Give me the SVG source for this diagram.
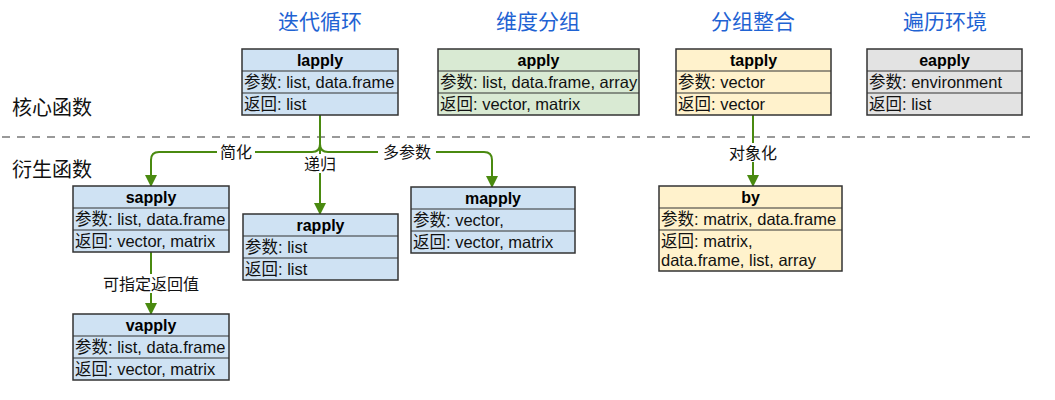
<svg xmlns="http://www.w3.org/2000/svg" width="1055" height="400" viewBox="0 0 1055 400">
<style>
.title{font-family:"Noto Sans CJK SC","Noto Sans",sans-serif;font-size:21px;fill:#1f63d3;text-anchor:middle;dominant-baseline:central}
.side{font-family:"Noto Sans CJK SC","Noto Sans",sans-serif;font-size:20px;fill:#111;dominant-baseline:central}
.hd{font-family:"Liberation Sans","Noto Sans CJK SC",sans-serif;font-size:16px;font-weight:bold;fill:#000;text-anchor:middle;dominant-baseline:central}
.row{font-family:"Liberation Sans","Noto Sans CJK SC",sans-serif;font-size:16.5px;fill:#111;dominant-baseline:central}
.lbl{font-family:"Noto Sans CJK SC","Liberation Sans",sans-serif;font-size:16px;fill:#111;text-anchor:middle;dominant-baseline:central}
.box{stroke:#333;stroke-width:1.5}
.blue{fill:#cfe2f3}.green{fill:#d9ead3}.yellow{fill:#fff2cc}.gray{fill:#e3e3e3}
.sep{stroke:#333;stroke-width:1.2}
.edge{fill:none;stroke:#4a8a10;stroke-width:2}
.bg{fill:#fff}
</style>
<defs>
<marker id="arr" viewBox="0 0 12 12" refX="11" refY="6" markerWidth="12" markerHeight="12" markerUnits="userSpaceOnUse" orient="auto">
<path d="M0,0 L12,6 L0,12 Z" fill="#4a8a10"/>
</marker>
</defs>

<text class="title" x="320" y="20">迭代循环</text>
<text class="title" x="538" y="20">维度分组</text>
<text class="title" x="753" y="20">分组整合</text>
<text class="title" x="945" y="20">遍历环境</text>
<text class="side" x="12" y="106">核心函数</text>
<text class="side" x="12" y="168">衍生函数</text>

<line x1="2" y1="137" x2="1035" y2="137" stroke="#999" stroke-width="2" stroke-dasharray="8,7"/>

<g id="connectors">
<path class="edge" d="M320,115 L320,144 Q320,152 312,152 L159,152 Q151,152 151,160 L151,186" marker-end="url(#arr)"/>
<path class="edge" d="M320,115 L320,144 Q320,152 328,152 L484,152 Q492,152 492,160 L492,187" marker-end="url(#arr)"/>
<path class="edge" d="M320,115 L320,214" marker-end="url(#arr)"/>
<path class="edge" d="M753,115 L753,186" marker-end="url(#arr)"/>
<path class="edge" d="M151,252 L151,314" marker-end="url(#arr)"/>
<rect class="bg" x="217" y="142" width="38" height="19"/>
<text class="lbl" x="236" y="151">简化</text>
<rect class="bg" x="302" y="154" width="36" height="19"/>
<text class="lbl" x="320" y="163">递归</text>
<rect class="bg" x="378" y="142" width="58" height="19"/>
<text class="lbl" x="407" y="151">多参数</text>
<rect class="bg" x="725" y="143" width="56" height="19"/>
<text class="lbl" x="753" y="152">对象化</text>
<rect class="bg" x="99" y="274" width="104" height="19"/>
<text class="lbl" x="151" y="283">可指定返回值</text>
</g>

<g id="lapply">
<rect class="box blue" x="242" y="49" width="156" height="66"/>
<line class="sep" x1="242" y1="71" x2="398" y2="71"/>
<line class="sep" x1="242" y1="93" x2="398" y2="93"/>
<text class="hd" x="320" y="60">lapply</text>
<text class="row" x="244" y="82">参数: list, data.frame</text>
<text class="row" x="244" y="104">返回: list</text>
</g>

<g id="apply">
<rect class="box green" x="438" y="49" width="201" height="66"/>
<line class="sep" x1="438" y1="71" x2="639" y2="71"/>
<line class="sep" x1="438" y1="93" x2="639" y2="93"/>
<text class="hd" x="538.5" y="60">apply</text>
<text class="row" x="440" y="82">参数: list, data.frame, array</text>
<text class="row" x="440" y="104">返回: vector, matrix</text>
</g>

<g id="tapply">
<rect class="box yellow" x="676" y="49" width="155" height="66"/>
<line class="sep" x1="676" y1="71" x2="831" y2="71"/>
<line class="sep" x1="676" y1="93" x2="831" y2="93"/>
<text class="hd" x="753.5" y="60">tapply</text>
<text class="row" x="678" y="82">参数: vector</text>
<text class="row" x="678" y="104">返回: vector</text>
</g>

<g id="eapply">
<rect class="box gray" x="867" y="49" width="155" height="66"/>
<line class="sep" x1="867" y1="71" x2="1022" y2="71"/>
<line class="sep" x1="867" y1="93" x2="1022" y2="93"/>
<text class="hd" x="944.5" y="60">eapply</text>
<text class="row" x="869" y="82">参数: environment</text>
<text class="row" x="869" y="104">返回: list</text>
</g>

<g id="sapply">
<rect class="box blue" x="73" y="186" width="156" height="66"/>
<line class="sep" x1="73" y1="208" x2="229" y2="208"/>
<line class="sep" x1="73" y1="230" x2="229" y2="230"/>
<text class="hd" x="151" y="197">sapply</text>
<text class="row" x="75" y="219">参数: list, data.frame</text>
<text class="row" x="75" y="241">返回: vector, matrix</text>
</g>

<g id="rapply">
<rect class="box blue" x="243" y="214" width="155" height="66"/>
<line class="sep" x1="243" y1="236" x2="398" y2="236"/>
<line class="sep" x1="243" y1="258" x2="398" y2="258"/>
<text class="hd" x="320.5" y="225">rapply</text>
<text class="row" x="245" y="247">参数: list</text>
<text class="row" x="245" y="269">返回: list</text>
</g>

<g id="mapply">
<rect class="box blue" x="411" y="187" width="164" height="66"/>
<line class="sep" x1="411" y1="209" x2="575" y2="209"/>
<line class="sep" x1="411" y1="231" x2="575" y2="231"/>
<text class="hd" x="493" y="198">mapply</text>
<text class="row" x="413" y="220">参数: vector,</text>
<text class="row" x="413" y="242">返回: vector, matrix</text>
</g>

<g id="by">
<rect class="box yellow" x="659" y="186" width="183" height="85"/>
<line class="sep" x1="659" y1="208" x2="842" y2="208"/>
<line class="sep" x1="659" y1="230" x2="842" y2="230"/>
<text class="hd" x="750.5" y="197">by</text>
<text class="row" x="661" y="219">参数: matrix, data.frame</text>
<text class="row" x="661" y="241">返回: matrix,</text>
<text class="row" x="661" y="260">data.frame, list, array</text>
</g>

<g id="vapply">
<rect class="box blue" x="73" y="314" width="156" height="66"/>
<line class="sep" x1="73" y1="336" x2="229" y2="336"/>
<line class="sep" x1="73" y1="358" x2="229" y2="358"/>
<text class="hd" x="151" y="325">vapply</text>
<text class="row" x="75" y="347">参数: list, data.frame</text>
<text class="row" x="75" y="369">返回: vector, matrix</text>
</g>
</svg>
